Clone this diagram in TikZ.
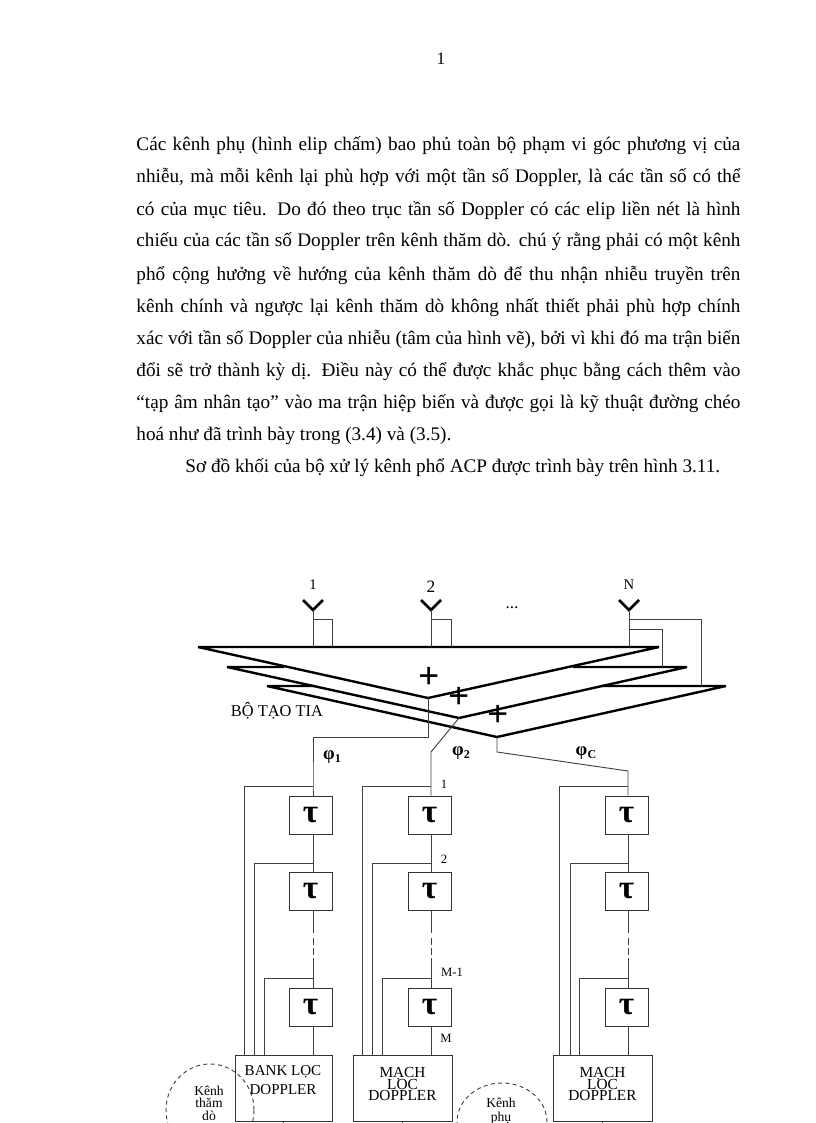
\documentclass[tikz,border=0pt]{standalone}
\usepackage{fontspec}
\setmainfont{Liberation Serif}
\usetikzlibrary{positioning,calc}
\tikzset{
  every picture/.style={line width=0.7pt},
  swire/.style={draw=black!75},
  sgap/.style={draw=black!75, dash pattern=on 5.25pt off 2.25pt},
  sbeam/.style={line width=1.8pt, line join=bevel},
  sant/.style={line width=2pt},
  sdelay/.style={draw=black!80, minimum width=32.25pt, minimum height=28.5pt, inner sep=0pt,
                 font=\fontsize{25}{25}\selectfont\bfseries},
  sfilter/.style={draw=black!80, minimum height=49.5pt, inner sep=0pt},
  sftext/.style={inner sep=0pt, align=center, font=\fontsize{11.5}{9}\selectfont},
  schan/.style={dash pattern=on 3pt off 2.5pt, draw=black!75},
  stext/.style={inner sep=0pt, anchor=base west, font=\fontsize{14.4}{14.4}\selectfont},
  slabel/.style={inner sep=0pt, font=\fontsize{9.5}{9.5}\selectfont},
  schantext/.style={inner sep=0pt, font=\fontsize{10.2}{10.2}\selectfont},
  sphi/.style={inner sep=0pt, font=\fontsize{14}{14}\selectfont\bfseries},
  splus/.style={inner sep=0pt, font=\fontsize{28}{28}\selectfont\bfseries},
}
\newcommand{\tline}[1]{\hbox to 453pt{#1}}
\newcommand{\phisub}[1]{φ\kern0.2pt\raisebox{-2.5pt}{\fontsize{9}{9}\selectfont #1}}
\begin{document}
\begin{tikzpicture}[x=0.75pt, y=-0.75pt]
  \useasboundingbox (0,0) rectangle (816,1123);
  \node[slabel, font=\fontsize{13}{13}\selectfont] (pageno) at (441,59) {1};
  % body text
  \node[stext] (l1) at (136,151) {\tline{Các kênh phụ (hình elip chấm) bao phủ toàn bộ phạm vi góc phương vị của}};
  \node[stext] (l2) at (136,183) {\tline{nhiễu, mà mỗi kênh lại phù hợp với một tần số Doppler, là các tần số có thể}};
  \node[stext] (l3) at (136,215) {\tline{có của mục tiêu. Do đó theo trục tần số Doppler có các elip liền nét là hình}};
  \node[stext] (l4) at (136,247) {\tline{chiếu của các tần số Doppler trên kênh thăm dò. chú ý rằng phải có một kênh}};
  \node[stext] (l5) at (136,280) {\tline{phổ cộng hưởng về hướng của kênh thăm dò để thu nhận nhiễu truyền trên}};
  \node[stext] (l6) at (136,312) {\tline{kênh chính và ngược lại kênh thăm dò không nhất thiết phải phù hợp chính}};
  \node[stext] (l7) at (136,344) {\tline{xác với tần số Doppler của nhiễu (tâm của hình vẽ), bởi vì khi đó ma trận biến}};
  \node[stext] (l8) at (136,376) {\tline{đổi sẽ trở thành kỳ dị. Điều này có thể được khắc phục bằng cách thêm vào}};
  \node[stext] (l9) at (136,408) {\tline{“tạp âm nhân tạo” vào ma trận hiệp biến và được gọi là kỹ thuật đường chéo}};
  \node[stext] (l10) at (136,440) {hoá như đã trình bày trong (3.4) và (3.5).};
  \node[stext] (l11) at (185,472) {Sơ đồ khối của bộ xử lý kênh phổ ACP được trình bày trên hình 3.11.};

  % beam formers
  \coordinate (b1) at (428,698);
  \coordinate (b2) at (459,718);
  \coordinate (b3) at (497,737);
  \coordinate (b1l) at (198,647);
  \coordinate (b1r) at (659,647);
  \coordinate (b2l) at (227,667);
  \coordinate (b2r) at (687,667);
  \coordinate (b3l) at (267,686);
  \coordinate (b3r) at (726,686);
  \draw[sbeam] (b1l) -- (b1r) -- (b1) -- cycle;
  \draw[sbeam] (284,667) -- (b2l) -- (b2) -- (b2r) -- (573,667);
  \draw[sbeam] (314,686) -- (b3l) -- (b3) -- (b3r) -- (601,686);
  \node[splus] (p1) at (429,678) {+};
  \node[splus] (p2) at (459,698) {+};
  \node[splus] (p3) at (498,716) {+};
  \node[slabel, font=\fontsize{12.3}{12.3}\selectfont] (bf) at (277,711) {BỘ TẠO TIA};

  % antennas
  \node[slabel, font=\fontsize{11}{11}\selectfont] (n1) at (313,585) {1};
  \node[slabel, font=\fontsize{13}{13}\selectfont] (n2) at (431,587) {2};
  \node[slabel, font=\fontsize{11}{11}\selectfont] (nN) at (629,585) {N};
  \node[slabel, font=\fontsize{13}{13}\selectfont] (ndots) at (512,608) {...};
  \coordinate (a1) at (313,610);
  \coordinate (a2) at (431,610);
  \coordinate (aN) at (629,610);
  \draw[sant] ($(a1)+(-10,-10)$) -- (a1) -- ($(a1)+(10,-10)$);
  \draw[sant] ($(a2)+(-10,-10)$) -- (a2) -- ($(a2)+(10,-10)$);
  \draw[sant] ($(aN)+(-10,-10)$) -- (aN) -- ($(aN)+(10,-10)$);
  \draw[swire] (a1) -- (a1 |- b1l);
  \draw[swire] ($(a1)+(0,9)$) -- ++(19,0) -- ++(0,28);
  \draw[swire] (a2) -- (a2 |- b1l);
  \draw[swire] ($(a2)+(0,9)$) -- ++(20,0) -- ++(0,28);
  \draw[swire] (aN) -- (aN |- b1l);
  \draw[swire] ($(aN)+(0,9)$) -- ++(72,0) -- ++(0,67);
  \draw[swire] ($(aN)+(0,19)$) -- ++(33,0) -- ++(0,38);

  % channel labels
  \node[sphi] (ph1) at (332,757) {\phisub{1}};
  \node[sphi] (ph2) at (461,753) {\phisub{2}};
  \node[sphi] (phC) at (586,753) {\phisub{C}};

  % column 1
  \node[sdelay] (t11) at (310.5,815) {τ};
  \node[sdelay] (t12) at (310.5,891) {τ};
  \node[sdelay] (t13) at (310.5,1007) {τ};
  \node[sfilter, minimum width=72.75pt] (f1) at (283.5,1088) {};
  \node[sftext, font=\fontsize{11.3}{9}\selectfont] (f1a) at (283,1072) {BANK LỌC};
  \node[sftext, font=\fontsize{11.3}{9}\selectfont] (f1b) at (283,1090) {DOPPLER};
  \coordinate (w11) at (313,786);
  \coordinate (w12) at (313,863);
  \coordinate (w13) at (313,978);
  \coordinate (i11) at (244,1055);
  \coordinate (i12) at (254,1055);
  \coordinate (i13) at (264,1055);
  \draw[swire] (b1) -- (428,737) -| (w11) -- (w11 |- t11.north);
  \draw[swire] (w11 |- t11.south) -- (w11 |- t12.north);
  \draw[swire] (w11 |- t12.south) -- (313,933);
  \draw[sgap] (313,938) -- (313,958);
  \draw[swire] (313,958) -- (w11 |- t13.north);
  \draw[swire] (w11 |- t13.south) -- (w11 |- f1.north);
  \draw[swire] (w11) -| (i11);
  \draw[swire] (w12) -| (i12);
  \draw[swire] (w13) -| (i13);
  \draw[swire] (f1.south) -- ++(0,2);

  % column 2
  \node[sdelay] (t21) at (429.5,815) {τ};
  \node[sdelay] (t22) at (429.5,891) {τ};
  \node[sdelay] (t23) at (429.5,1007) {τ};
  \node[sfilter, minimum width=74.25pt] (f2) at (402.5,1088) {};
  \node[sftext] (f2a) at (402.5,1084) {MẠCH\\[-2pt]LỌC\\[-2pt]DOPPLER};
  \coordinate (w21) at (431,786);
  \coordinate (w22) at (431,863);
  \coordinate (w23) at (431,978);
  \coordinate (i21) at (362,1055);
  \coordinate (i22) at (372,1055);
  \coordinate (i23) at (382,1055);
  \draw[swire] (b2) -- (431,752) -- (w21) -- (w21 |- t21.north);
  \draw[swire] (w21 |- t21.south) -- (w21 |- t22.north);
  \draw[swire] (w21 |- t22.south) -- (431,933);
  \draw[sgap] (431,938) -- (431,958);
  \draw[swire] (431,958) -- (w21 |- t23.north);
  \draw[swire] (w21 |- t23.south) -- (w21 |- f2.north);
  \draw[swire] (w21) -| (i21);
  \draw[swire] (w22) -| (i22);
  \draw[swire] (w23) -| (i23);
  \draw[swire] (f2.south) -- ++(0,2);
  \node[slabel] (m1) at (444,784) {1};
  \node[slabel] (m2) at (444,859) {2};
  \node[slabel] (m3) at (452,972) {M-1};
  \node[slabel] (m4) at (446,1038) {M};

  % column 3
  \node[sdelay] (t31) at (626.5,815) {τ};
  \node[sdelay] (t32) at (626.5,891) {τ};
  \node[sdelay] (t33) at (626.5,1007) {τ};
  \node[sfilter, minimum width=74.25pt] (f3) at (602.5,1088) {};
  \node[sftext] (f3a) at (602.5,1084) {MẠCH\\[-2pt]LỌC\\[-2pt]DOPPLER};
  \coordinate (w31) at (628,786);
  \coordinate (w32) at (628,863);
  \coordinate (w33) at (628,978);
  \coordinate (i31) at (559,1055);
  \coordinate (i32) at (570,1055);
  \coordinate (i33) at (579,1055);
  \draw[swire] (b3) -- (497,752) -- (628,771) -- (w31) -- (w31 |- t31.north);
  \draw[swire] (w31 |- t31.south) -- (w31 |- t32.north);
  \draw[swire] (w31 |- t32.south) -- (628,933);
  \draw[sgap] (628,938) -- (628,958);
  \draw[swire] (628,958) -- (w31 |- t33.north);
  \draw[swire] (w31 |- t33.south) -- (w31 |- f3.north);
  \draw[swire] (w31) -| (i31);
  \draw[swire] (w32) -| (i32);
  \draw[swire] (w33) -| (i33);
  \draw[swire] (f3.south) -- ++(0,2);

  % dashed channels, cut by the page edge
  \draw[schan] (210,1110) ellipse [x radius=33pt, y radius=34.5pt];
  \draw[schan] (502,1122) ellipse [x radius=33.75pt, y radius=29.25pt];
  \node[schantext] (k1) at (209,1091) {Kênh};
  \node[schantext] (k2) at (209,1103) {thăm};
  \node[schantext] (k3) at (209,1116) {dò};
  \node[schantext] (k4) at (501,1103) {Kênh};
  \node[schantext] (k5) at (501,1118) {phụ};
\end{tikzpicture}
\end{document}
